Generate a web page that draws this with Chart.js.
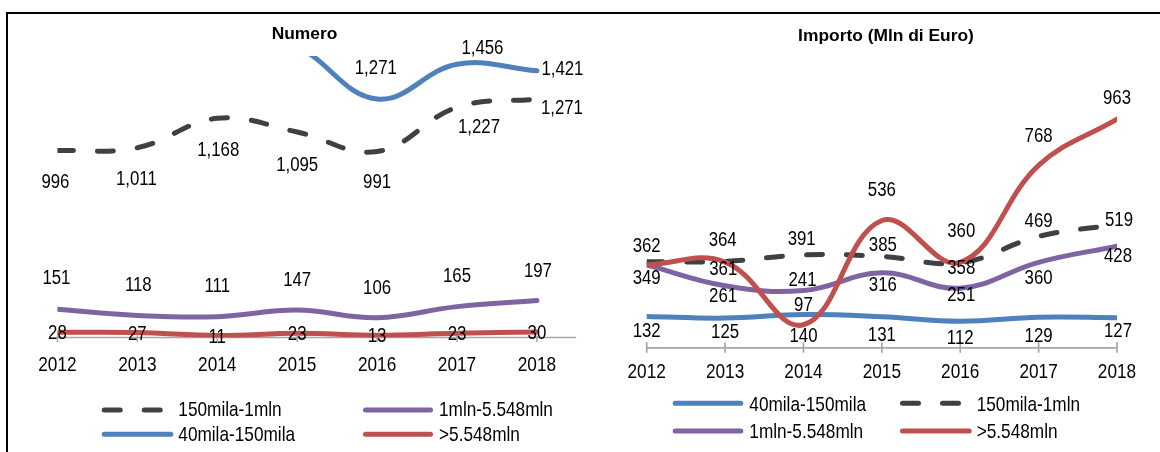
<!DOCTYPE html>
<html>
<head>
<meta charset="utf-8">
<script src="https://cdn.jsdelivr.net/npm/chart.js@4.4.1/dist/chart.umd.min.js"></script>
<style>
  html, body { margin: 0; padding: 0; background: #fff; width: 1160px; height: 452px; overflow: hidden; }
  #frame { position: absolute; left: 6px; top: 12px; width: 1160px; height: 450px; border-left: 2px solid #000; border-top: 2px solid #000; }
  .box { position: absolute; top: 0; height: 452px; }
  #left { left: 0; width: 620px; }
  #right { left: 580px; width: 580px; }
  canvas { display: block; }
</style>
</head>
<body>
<div id="frame"></div>
<div class="box" id="left"><canvas id="c1" width="620" height="452"></canvas></div>
<div class="box" id="right"><canvas id="c2" width="580" height="452"></canvas></div>
<script>
// ---------------- DATA ----------------
const years = ['2012', '2013', '2014', '2015', '2016', '2017', '2018'];
const seriesNames = ['40mila-150mila', '150mila-1mln', '1mln-5.548mln', '>5.548mln'];
const chartTitles = ['Numero', 'Importo (Mln di Euro)'];

// Numero (2012-2015 of the first series run above the visible range; estimated)
const numero40to150 = [1620, 1560, 1680, 1550, 1271, 1456, 1421];
const numero150to1m = [996, 1011, 1168, 1095, 991, 1227, 1271];
const numero1mTo5m = [151, 118, 111, 147, 106, 165, 197];
const numeroOver5m = [28, 27, 11, 23, 13, 23, 30];

// Importo (Mln di Euro)
const importo40to150 = [132, 125, 140, 131, 112, 129, 127];
const importo150to1m = [362, 364, 391, 385, 358, 469, 519];
const importo1mTo5m = [349, 261, 241, 316, 251, 360, 428];
const importoOver5m = [349, 361, 97, 536, 360, 768, 963];

// ---------------- STYLE ----------------
const FONT = "'Liberation Sans', Arial, sans-serif";
const NARROW_X = 0.82;   // horizontal squeeze to imitate a narrow face
const COLORS = ['#4F81BD', '#404040', '#8064A2', '#C0504D'];

function narrowText(ctx, text, x, y, align) {
  ctx.save();
  ctx.translate(x, y);
  ctx.scale(NARROW_X, 1);
  ctx.textAlign = align;
  ctx.fillText(text, 0, 0);
  ctx.restore();
}

function makeDatasets(values) {
  return values.map((vals, i) => ({
    label: seriesNames[i],
    data: vals,
    borderColor: COLORS[i],
    backgroundColor: COLORS[i],
    borderWidth: 5,
    borderDash: i === 1 ? [16, 24] : [],
    borderCapStyle: 'round',
    borderJoinStyle: 'round',
    pointRadius: 0,
    pointHoverRadius: 0,
    tension: 0.4,
    fill: false,
    order: 4 - i
  }));
}

// axis line, cross tick marks and category labels (from the x scale's ticks)
const axisPlugin = {
  id: 'excelAxis',
  beforeDatasetsDraw(chart, args, o) {
    const { ctx, chartArea, scales: { x, y } } = chart;
    const y0 = y.getPixelForValue(0);
    ctx.save();
    ctx.strokeStyle = o.color;
    ctx.lineWidth = o.width;
    ctx.beginPath();
    ctx.moveTo(chartArea.left, y0);
    ctx.lineTo(chartArea.right, y0);
    x.ticks.forEach(t => {
      const px = x.getPixelForValue(t.value);
      ctx.moveTo(px, y0 - o.up);
      ctx.lineTo(px, y0 + o.down);
    });
    ctx.stroke();
    ctx.fillStyle = '#000';
    ctx.font = o.font;
    ctx.textBaseline = 'middle';
    x.ticks.forEach(t => {
      const px = x.getPixelForValue(t.value);
      const lbl = years.find(yy => +yy === t.value) || '';
      narrowText(ctx, lbl, px, y0 + o.labelDy, 'center');
    });
    ctx.restore();
  }
};

const labelPlugin = {
  id: 'pointLabels',
  afterDatasetsDraw(chart, args, o) {
    const { ctx } = chart;
    const yMax = chart.scales.y.max;
    ctx.save();
    ctx.font = o.font;
    ctx.fillStyle = '#000';
    ctx.textBaseline = 'middle';
    chart.data.datasets.forEach((ds, i) => {
      const meta = chart.getDatasetMeta(i);
      const offs = o.offsets[i];
      meta.data.forEach((pt, j) => {
        const v = ds.data[j];
        if (v > yMax || !offs[j]) return;
        narrowText(ctx, v.toLocaleString('en-US'), pt.x + offs[j][0], pt.y + offs[j][1], 'center');
      });
    });
    ctx.restore();
  }
};

const decorPlugin = {
  id: 'decor',
  afterDraw(chart, args, o) {
    const { ctx } = chart;
    ctx.save();
    ctx.fillStyle = '#000';
    ctx.font = o.titleFont;
    ctx.textAlign = 'center';
    ctx.textBaseline = 'middle';
    ctx.fillText(o.title, o.titleX, o.titleY);
    o.legend.forEach(item => {
      const ds = chart.data.datasets[item.ds];
      ctx.beginPath();
      ctx.strokeStyle = ds.borderColor;
      ctx.lineWidth = ds.borderWidth;
      ctx.lineCap = 'round';
      ctx.setLineDash(ds.borderDash || []);
      ctx.moveTo(item.x1, item.y);
      ctx.lineTo(item.x2, item.y);
      ctx.stroke();
      ctx.setLineDash([]);
      ctx.font = o.legendFont;
      narrowText(ctx, ds.label, item.tx, item.y + o.textDy, 'left');
    });
    ctx.restore();
  }
};

function makeChart(canvasId, datasets, cfg) {
  return new Chart(document.getElementById(canvasId), {
    type: 'line',
    data: { labels: years, datasets },
    plugins: [axisPlugin, labelPlugin, decorPlugin],
    options: {
      responsive: false,
      animation: false,
      devicePixelRatio: 1,
      layout: { padding: cfg.padding },
      scales: {
        x: {
          type: 'linear',
          min: +years[0],
          max: cfg.xMax,
          grid: { display: false, drawTicks: false },
          border: { display: false },
          afterBuildTicks: s => { s.ticks = years.map(yy => ({ value: +yy })); },
          afterFit: s => { s.height = 30; },
          ticks: { stepSize: 1, autoSkip: false, maxRotation: 0, display: false }
        },
        y: { display: false, min: 0, max: cfg.yMax }
      },
      plugins: {
        legend: { display: false },
        tooltip: { enabled: false },
        title: { display: false },
        excelAxis: Object.assign({ font: '21px ' + FONT }, cfg.axis),
        pointLabels: { font: '20.5px ' + FONT, offsets: cfg.offsets },
        decor: {
          title: cfg.title, titleX: cfg.titleX, titleY: cfg.titleY,
          titleFont: 'bold 17.4px ' + FONT,
          legendFont: '21px ' + FONT,
          textDy: cfg.legendTextDy,
          legend: cfg.legend
        }
      }
    }
  });
}

// Left chart: Numero
makeChart('c1', makeDatasets([numero40to150, numero150to1m, numero1mTo5m, numeroOver5m]), {
  padding: { left: 57.4, right: 43.9, top: 56, bottom: 84.4 },
  xMax: 2018.49,
  yMax: 1500,
  axis: { color: '#a6a6a6', width: 1.5, up: 2.3, down: 4.4, labelDy: 27.6 },
  title: chartTitles[0], titleX: 304.5, titleY: 34.2,
  legendTextDy: 0.5,
  legend: [
    { ds: 1, x1: 104.2, x2: 170.8, y: 410, tx: 178.3 },
    { ds: 2, x1: 365.5, x2: 430.5, y: 410, tx: 439 },
    { ds: 0, x1: 104.2, x2: 170.8, y: 434.3, tx: 178.3 },
    { ds: 3, x1: 365.5, x2: 430.5, y: 434.3, tx: 439 }
  ],
  offsets: [
    [[0, -31], [0, -31], [0, -31], [0, -31], [-1.3, -31], [25.4, -16.3], [25.5, -1.8]],
    [[-2, 32], [-1, 32], [1, 32], [0, 33], [0, 31], [22, 20.4], [25, 9.7]],
    [[-1, -31], [1, -30], [0, -30], [0, -30], [0, -29], [0, -30], [1, -29]],
    [[0, 1.5], [0, 1.5], [0, 1.5], [0, 1.5], [0, 1.5], [0, 1.5], [0, 1.5]]
  ]
});

// Right chart: Importo
makeChart('c2', makeDatasets([importo40to150, importo150to1m, importo1mTo5m, importoOver5m]), {
  padding: { left: 66.7, right: 43, top: 110.3, bottom: 74.2 },
  xMax: +years[years.length - 1],
  yMax: 1000,
  axis: { color: '#a6a6a6', width: 1.7, up: 5.5, down: 5, labelDy: 24 },
  title: chartTitles[1], titleX: 306, titleY: 36.5,
  legendTextDy: 1.5,
  legend: [
    { ds: 0, x1: 95.2, x2: 160.8, y: 403.3, tx: 169.3 },
    { ds: 1, x1: 322.5, x2: 389.2, y: 403.3, tx: 396.7 },
    { ds: 2, x1: 95.2, x2: 160.8, y: 431, tx: 169.3 },
    { ds: 3, x1: 322.5, x2: 389.2, y: 431, tx: 396.7 }
  ],
  offsets: [
    [[0, 14.6], [0, 14.2], [0, 22], [0, 18.3], [0, 17], [0, 19.5], [1, 13.5]],
    [[0, -15], [-2.4, -21.4], [-1.8, -16], [1, -11.4], [1, 5.5], [0, -14.7], [2, -4.5]],
    [[0, 13.4], [-2, 11], [-1, -10.6], [1, 12.3], [1, 6.8], [0, 16], [1, 10.6]],
    [null, [-1.8, 7.2], [0, -19.8], [0, -30.5], [1, -30.6], [0, -28.7], [0, -20.8]]
  ]
});
</script>
</body>
</html>
